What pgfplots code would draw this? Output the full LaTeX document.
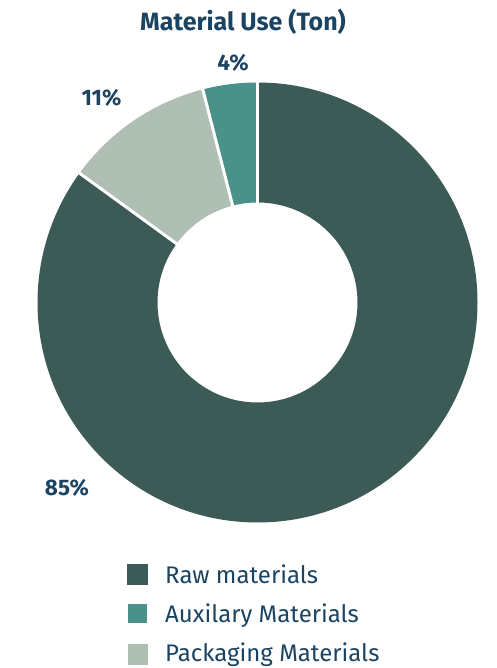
\documentclass[border=0pt]{standalone}
\usepackage{pgfplots}
\pgfplotsset{compat=1.18}
\usepackage{pgfplotstable}
\usepackage{fontspec}
\setmainfont{Fira Sans}
\definecolor{rawc}{HTML}{3D5B56}
\definecolor{auxc}{HTML}{4A918A}
\definecolor{packc}{HTML}{B0BFB4}
\definecolor{textc}{HTML}{1B4462}
\pgfplotstableread{
label value
Raw 85
Packaging 11
Auxiliary 4
}\datatable
\begin{document}
\begin{tikzpicture}
\pgfplotstablegetelem{0}{value}\of\datatable \let\vA\pgfplotsretval
\pgfplotstablegetelem{1}{value}\of\datatable \let\vB\pgfplotsretval
\pgfplotstablegetelem{2}{value}\of\datatable \let\vC\pgfplotsretval
\pgfmathsetmacro\tot{\vA+\vB+\vC}
\pgfmathsetmacro\aO{90}
\pgfmathsetmacro\aA{90-360*(\vA/\tot)}
\pgfmathsetmacro\aB{\aA-360*(\vB/\tot)}
\pgfmathsetmacro\aC{\aB-360*(\vC/\tot)}
\def\Rout{220pt}\def\Rin{100pt}
\begin{axis}[at={(0,0)}, anchor=south west, scale only axis,
  width=496pt, height=668pt, xmin=0, xmax=496, ymin=0, ymax=668,
  hide axis, clip=false]
\fill[rawc] ([shift={(\aO:\Rout)}]axis cs:257.5,365.5) arc[start angle=\aO, end angle=\aA, radius=\Rout]
  -- ([shift={(\aA:\Rin)}]axis cs:257.5,365.5) arc[start angle=\aA, end angle=\aO, radius=\Rin] -- cycle;
\fill[packc] ([shift={(\aA:\Rout)}]axis cs:257.5,365.5) arc[start angle=\aA, end angle=\aB, radius=\Rout]
  -- ([shift={(\aB:\Rin)}]axis cs:257.5,365.5) arc[start angle=\aB, end angle=\aA, radius=\Rin] -- cycle;
\fill[auxc] ([shift={(\aB:\Rout)}]axis cs:257.5,365.5) arc[start angle=\aB, end angle=\aC, radius=\Rout]
  -- ([shift={(\aC:\Rin)}]axis cs:257.5,365.5) arc[start angle=\aC, end angle=\aB, radius=\Rin] -- cycle;
\draw[white, line width=3pt] ([shift={(\aO:95pt)}]axis cs:257.5,365.5) -- ([shift={(\aO:224pt)}]axis cs:257.5,365.5);
\draw[white, line width=3pt] ([shift={(\aA:95pt)}]axis cs:257.5,365.5) -- ([shift={(\aA:224pt)}]axis cs:257.5,365.5);
\draw[white, line width=3pt] ([shift={(\aB:95pt)}]axis cs:257.5,365.5) -- ([shift={(\aB:224pt)}]axis cs:257.5,365.5);
% labels
\node[anchor=base, inner sep=0pt, text=textc, font=\bfseries\fontsize{25}{28}\selectfont] at (axis cs:243,637) {Material Use (Ton)};
\node[anchor=base, inner sep=0pt, text=textc, font=\bfseries\fontsize{22.5}{26}\selectfont] at (axis cs:233,597.3) {4\%};
\node[anchor=base, inner sep=0pt, text=textc, font=\bfseries\fontsize{22.5}{26}\selectfont] at (axis cs:101.5,562.3) {11\%};
\node[anchor=base, inner sep=0pt, text=textc, font=\bfseries\fontsize{22.5}{26}\selectfont] at (axis cs:67,172.3) {85\%};
% legend
\fill[rawc] (axis cs:127,83) rectangle (axis cs:148,104);
\fill[auxc] (axis cs:128,45) rectangle (axis cs:147,64);
\fill[packc] (axis cs:128,3) rectangle (axis cs:148,24);
\node[anchor=base west, inner sep=0pt, text=textc, font=\fontsize{24}{28}\selectfont] at (axis cs:165,84) {Raw materials};
\node[anchor=base west, inner sep=0pt, text=textc, font=\fontsize{24}{28}\selectfont] at (axis cs:165,45) {Auxilary Materials};
\node[anchor=base west, inner sep=0pt, text=textc, font=\fontsize{24}{28}\selectfont] at (axis cs:165,6.5) {Packaging Materials};
\end{axis}
\pgfresetboundingbox
\path[use as bounding box] (0,0) rectangle (496pt,668pt);
\end{tikzpicture}
\end{document}
